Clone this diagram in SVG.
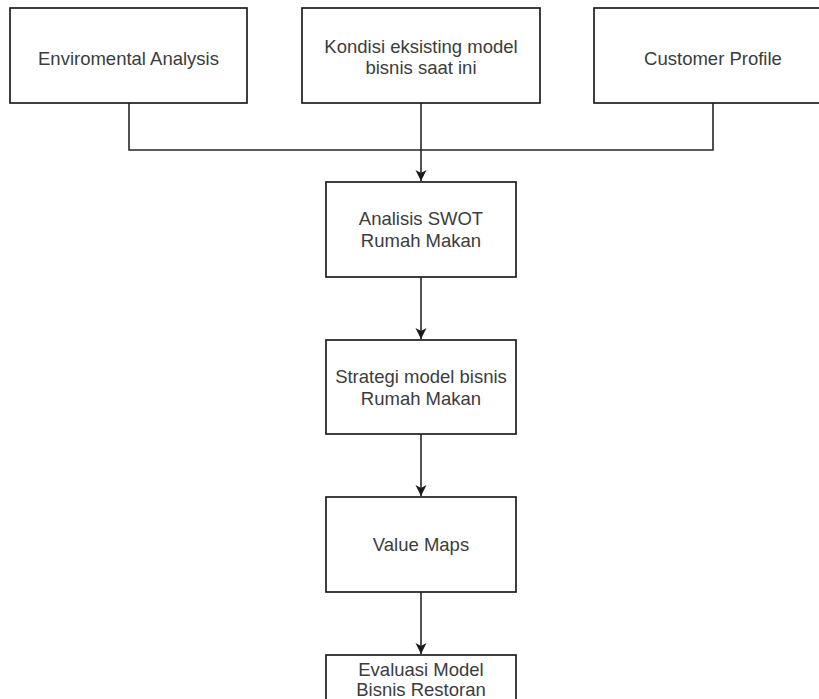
<svg xmlns="http://www.w3.org/2000/svg" width="819" height="699" viewBox="0 0 819 699">
<defs>
<style>
.box{fill:#ffffff;stroke:#1e1e1e;stroke-width:1.7}
.lbl{font-family:"Liberation Sans",Arial,sans-serif;font-size:18.5px;fill:#3c3c3c;text-anchor:middle}
.edge{fill:none;stroke:#262626;stroke-width:1.6}
</style>
<marker id="arr" viewBox="-12 -7 14 14" refX="0" refY="0" markerWidth="14" markerHeight="14" markerUnits="userSpaceOnUse" orient="auto">
<path d="M-11,-5.5 L0,0 L-11,5.5 L-8,0 Z" fill="#1a1a1a"/>
</marker>
</defs>
<rect width="819" height="699" fill="#ffffff"/>
<g id="connectors">
<path class="edge" d="M129,103 V150 H713 V103"/>
<path class="edge" d="M421,103 V181" marker-end="url(#arr)"/>
<path class="edge" d="M421,277 V339" marker-end="url(#arr)"/>
<path class="edge" d="M421,434 V496" marker-end="url(#arr)"/>
<path class="edge" d="M421,592 V654" marker-end="url(#arr)"/>
</g>
<g id="enviromental">
<rect class="box" x="10" y="8" width="237" height="95"/>
<text class="lbl" x="128.5" y="65">Enviromental Analysis</text>
</g>
<g id="kondisi">
<rect class="box" x="302" y="8" width="238" height="95"/>
<text class="lbl" x="421" y="53">Kondisi eksisting model</text>
<text class="lbl" x="421" y="74">bisnis saat ini</text>
</g>
<g id="customer">
<rect class="box" x="594" y="8" width="238" height="95"/>
<text class="lbl" x="713" y="65">Customer Profile</text>
</g>
<g id="swot">
<rect class="box" x="326" y="182" width="190" height="95"/>
<text class="lbl" x="421" y="225">Analisis SWOT</text>
<text class="lbl" x="421" y="247">Rumah Makan</text>
</g>
<g id="strategi">
<rect class="box" x="326" y="340" width="190" height="94"/>
<text class="lbl" x="421" y="383">Strategi model bisnis</text>
<text class="lbl" x="421" y="405">Rumah Makan</text>
</g>
<g id="valuemaps">
<rect class="box" x="326" y="497" width="190" height="95"/>
<text class="lbl" x="421" y="551">Value Maps</text>
</g>
<g id="evaluasi">
<rect class="box" x="326" y="655" width="190" height="95"/>
<text class="lbl" x="421" y="676">Evaluasi Model</text>
<text class="lbl" x="421" y="696">Bisnis Restoran</text>
</g>
</svg>
